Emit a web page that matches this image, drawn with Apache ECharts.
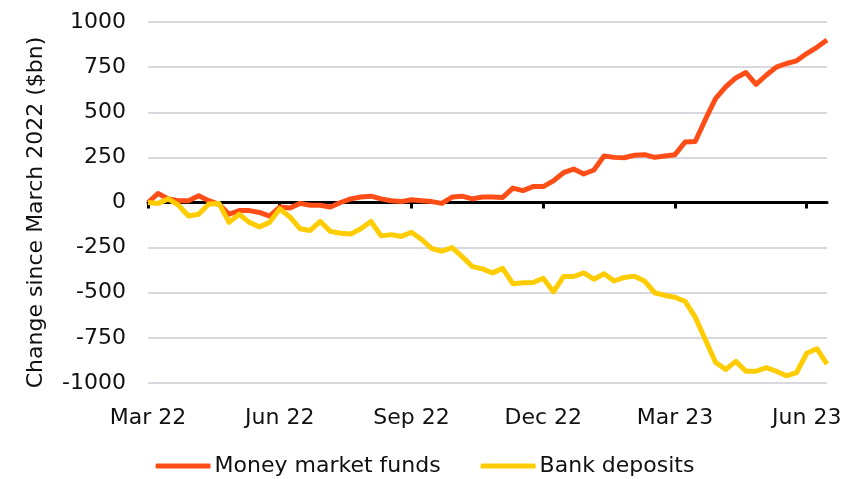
<!DOCTYPE html>
<html lang="en">
<head>
<meta charset="UTF-8" />
<script src="https://cdn.jsdelivr.net/npm/echarts@6/dist/echarts.min.js"></script>
<style>
	html, body { margin: 0; padding: 0; background: #fff; }
	#main { width: 850px; height: 479px; }
</style>
</head>
<body>
	<div id="main"></div>
	<script type="text/javascript">
		// weekly points since end of March 2022 ($bn change)
		var mmf = [0, 50, 20, 10, 10, 38, 10, -10, -65, -45, -45, -55, -75, -25,
			-30, -5, -15, -15, -25, 0, 20, 30, 35, 20, 10, 5, 15, 10,
			5, -5, 30, 35, 20, 30, 30, 28, 80, 66, 88, 88, 120, 165,
			185, 158, 180, 258, 250, 248, 262, 265, 250, 258, 265, 335, 338,
			460, 575, 640, 690, 720, 655, 705, 750, 770, 785, 825, 860, 900];
		var deposits = [0, -5, 20, -15, -75, -65, -8, -5, -110, -65, -110, -135, -110, -35,
			-80, -145, -155, -105, -160, -170, -175, -145, -105, -185, -178, -188, -165, -205,
			-255, -270, -250, -300, -355, -368, -390, -365, -450, -445, -443, -420, -495, -410,
			-410, -390, -425, -395, -435, -415, -408, -435, -500, -515, -525, -548, -635,
			-760, -885, -925, -880, -935, -935, -915, -935, -960, -942, -835, -810, -895];
		var tickWeeks = [0, 13, 26, 39, 52, 65];
		var tickLabels = ['Mar 22', 'Jun 22', 'Sep 22', 'Dec 22', 'Mar 23', 'Jun 23'];

		function pairs(arr) {
			return arr.map(function(v, i) { return [i, v]; });
		}

		var font = 'DejaVu Sans';
		var myChart = echarts.init(document.getElementById('main'));
		var option = {
			animation : false,
			color : [ '#FF4D17', '#FFCC00' ],
			grid : { left : 148, right : 23, top : 22, bottom : 96 },
			legend : {
				bottom : -3,
				left : 'center',
				itemWidth : 55,
				itemHeight : 5,
				itemGap : 40,
				icon : 'roundRect',
				textStyle : { fontFamily : font, fontSize : 22, color : '#111', padding : [0, 0, 0, -1] },
				data : [ 'Money market funds', 'Bank deposits' ]
			},
			xAxis : [ {
				type : 'value', position : 'bottom',
				min : 0, max : mmf.length - 1,
				axisLine : { show : false, onZero : false },
				axisTick : { show : false },
				splitLine : { show : false },
				axisLabel : {
					customValues : tickWeeks,
					margin : 24,
					fontFamily : font, fontSize : 22, color : '#111',
					formatter : function(v) { return tickLabels[tickWeeks.indexOf(v)] || ''; }
				}
			}, {
				type : 'value', position : 'bottom',
				min : 0, max : mmf.length - 1,
				axisLine : { onZero : true, lineStyle : { color : '#000', width : 3 } },
				axisTick : { customValues : tickWeeks, length : 6, lineStyle : { color : '#000', width : 3 } },
				axisLabel : { show : false },
				splitLine : { show : false }
			} ],
			yAxis : {
				type : 'value', min : -1000, max : 1000, interval : 250,
				name : 'Change since March 2022 ($bn)',
				nameLocation : 'middle', nameGap : 101,
				nameTextStyle : { fontFamily : font, fontSize : 22, color : '#111', padding : [0, 20, 0, 0] },
				axisLine : { show : false },
				axisTick : { show : false },
				axisLabel : {
					margin : 22, fontFamily : font, fontSize : 22, color : '#111',
					formatter : function(v) { return String(v); }
				},
				splitLine : { lineStyle : { color : '#D8D8DE', width : 2 } }
			},
			series : [ {
				name : 'Money market funds', type : 'line', xAxisIndex : 0,
				showSymbol : false, symbol : 'none',
				lineStyle : { width : 5, join : 'round' },
				data : pairs(mmf)
			}, {
				name : 'Bank deposits', type : 'line', xAxisIndex : 0,
				showSymbol : false, symbol : 'none',
				lineStyle : { width : 5, join : 'round' },
				data : pairs(deposits)
			} ]
		};
		myChart.setOption(option);
	</script>
</body>
</html>
